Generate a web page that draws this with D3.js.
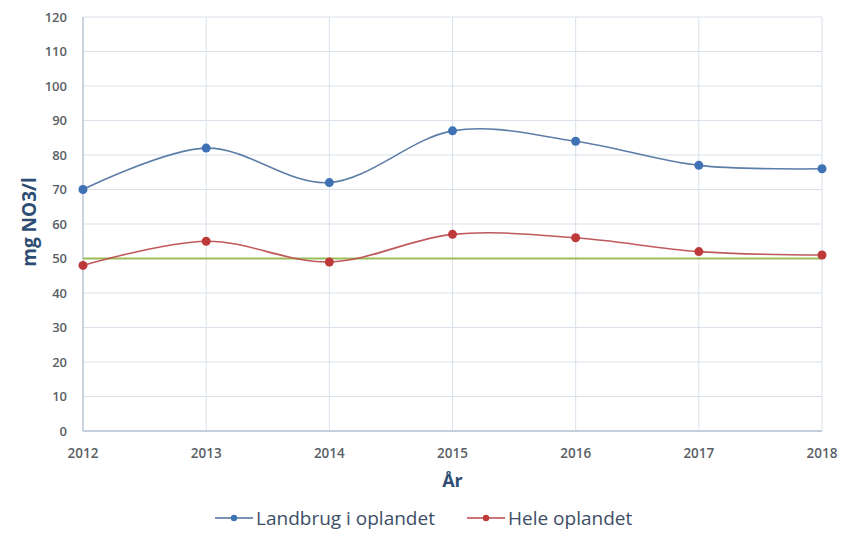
<!DOCTYPE html>
<html><head><meta charset="utf-8">
<script src="https://cdn.jsdelivr.net/npm/d3@7/dist/d3.min.js"></script>
<style>body{margin:0;background:#fff;} svg{display:block;font-family:"Open Sans","Liberation Sans",sans-serif;}</style>
</head><body>
<svg id="c" width="851" height="548"></svg>
<script>
const years = [2012, 2013, 2014, 2015, 2016, 2017, 2018];
const landbrug = [70, 82, 72, 87, 84, 77, 76];
const hele = [48, 55, 49, 57, 56, 52, 51];
const limitValue = 50;
const yTicks = [0, 10, 20, 30, 40, 50, 60, 70, 80, 90, 100, 110, 120];
const seriesNames = ["Landbrug i oplandet", "Hele oplandet"];

const svg = d3.select("#c");
const x = d3.scaleLinear().domain([2012, 2018]).range([83, 822]);
const y = d3.scaleLinear().domain([0, 120]).range([431, 17]);

const gridColor = "#d9e0ea";
svg.append("g").selectAll("line").data(yTicks).join("line")
  .attr("x1", x(2012)).attr("x2", x(2018))
  .attr("y1", d => y(d)).attr("y2", d => y(d))
  .attr("stroke", gridColor).attr("stroke-width", 1);
svg.append("g").selectAll("line").data(years).join("line")
  .attr("x1", d => x(d)).attr("x2", d => x(d))
  .attr("y1", y(0)).attr("y2", y(120))
  .attr("stroke", gridColor).attr("stroke-width", 1);
svg.append("line").attr("x1", x(2012)).attr("x2", x(2012)).attr("y1", y(0)).attr("y2", y(120))
  .attr("stroke", "#b8c4d4").attr("stroke-width", 1.3);
svg.append("line").attr("x1", x(2012)).attr("x2", x(2018)).attr("y1", y(0)).attr("y2", y(0))
  .attr("stroke", "#b8c4d4").attr("stroke-width", 1.3);

svg.append("g").selectAll("text").data(yTicks).join("text")
  .attr("x", 67).attr("y", d => y(d)).attr("dy", "0.35em")
  .attr("text-anchor", "end").attr("font-size", 13).attr("font-weight", 600)
  .attr("fill", "#5a5f66").text(d => d);
svg.append("g").selectAll("text").data(years).join("text")
  .attr("x", d => x(d)).attr("y", 458)
  .attr("text-anchor", "middle").attr("font-size", 13.5).attr("font-weight", 600)
  .attr("fill", "#5a5f66").text(d => d);

svg.append("text").attr("transform", "translate(36,222) rotate(-90)")
  .attr("text-anchor", "middle").attr("font-size", 19).attr("font-weight", 700)
  .attr("fill", "#2e4d73").text("mg NO3/l");
svg.append("text").attr("x", (x(2012) + x(2018)) / 2).attr("y", 487)
  .attr("text-anchor", "middle").attr("font-size", 18).attr("font-weight", 700)
  .attr("fill", "#2e4d73").text("År");

svg.append("line").attr("x1", x(2012)).attr("x2", x(2018))
  .attr("y1", y(limitValue)).attr("y2", y(limitValue))
  .attr("stroke", "#9bbb59").attr("stroke-width", 1.8);

const line = d3.line().x((d, i) => x(years[i])).y(d => y(d)).curve(d3.curveCatmullRom.alpha(0));
const series = [
  {name: seriesNames[0], values: landbrug, line: "#4a6f9e", marker: "#3f72b5"},
  {name: seriesNames[1], values: hele, line: "#b8474a", marker: "#be3a3a"}
];
series.forEach(s => {
  svg.append("path").attr("d", line(s.values)).attr("fill", "none")
    .attr("stroke", s.line).attr("stroke-width", 1.6).attr("stroke-opacity", 0.9);
  svg.append("g").selectAll("circle").data(s.values).join("circle")
    .attr("cx", (d, i) => x(years[i])).attr("cy", d => y(d)).attr("r", 4.5)
    .attr("fill", s.marker);
});

const leg = [{x: 215, s: series[0]}, {x: 467, s: series[1]}];
leg.forEach(l => {
  svg.append("line").attr("x1", l.x).attr("x2", l.x + 38).attr("y1", 518).attr("y2", 518)
    .attr("stroke", l.s.line).attr("stroke-width", 1.6);
  svg.append("circle").attr("cx", l.x + 19).attr("cy", 518).attr("r", 3.2).attr("fill", l.s.marker);
  svg.append("text").attr("x", l.x + 41).attr("y", 518).attr("dy", "0.35em")
    .attr("font-size", 19).attr("fill", "#3d4e66").text(l.s.name);
});
</script>
</body></html>
